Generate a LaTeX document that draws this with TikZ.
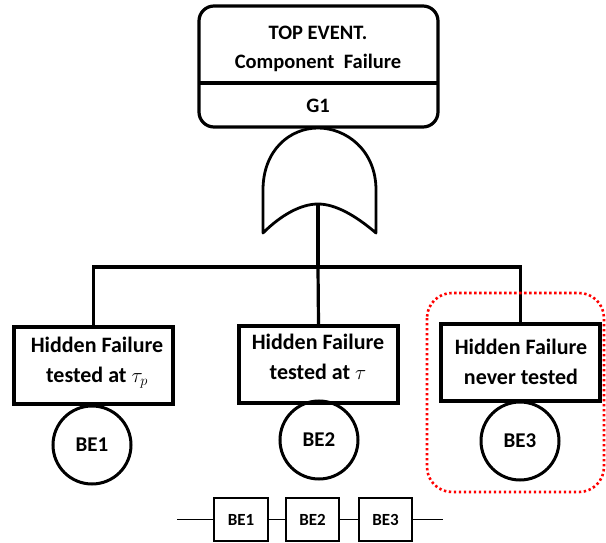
\documentclass[tikz,border=0pt]{standalone}
\usepackage{fontspec}
\setmainfont{Carlito}
\begin{document}
\begin{tikzpicture}[x=1pt,y=-1pt,
  topbox/.style={draw,line width=3.2pt,rounded corners=15pt,minimum width=239pt,minimum height=121pt,inner sep=0},
  toptext/.style={font=\bfseries\fontsize{20.5}{24}\selectfont,inner sep=0},
  hbox/.style={draw,line width=3.2pt,minimum width=159pt,minimum height=77pt,inner sep=0},
  htext/.style={font=\bfseries\fontsize{22}{30}\selectfont,align=center,inner sep=0},
  bec/.style={draw,circle,line width=3pt,minimum size=78pt,inner sep=0,font=\bfseries\fontsize{21}{24}\selectfont},
  sbox/.style={draw,line width=1.6pt,minimum width=53pt,minimum height=43pt,inner sep=0,font=\bfseries\fontsize{17}{20}\selectfont},
  conn/.style={line width=3.2pt},
  sconn/.style={line width=1.6pt},
  gate/.style={line width=2.8pt,line join=round},
  grp/.style={red,line width=2.6pt,dash pattern=on 2.4pt off 2.6pt,rounded corners=25pt}]
\useasboundingbox (0,0) rectangle (606,543);
% top event
\node[topbox] (top) at (318.5,66.5) {};
\draw[line width=3.2pt] (199,83) -- (438,83);
\node[toptext] (t1) at (318,33) {TOP EVENT.};
\node[toptext] (t2) at (318,63) {Component~~Failure};
\node[toptext] (g1) at (318,106) {G1};
% OR gate
\draw[gate] (263,233) -- (263,190) .. controls (263,150) and (290,128) .. (318,128)
  .. controls (346,128) and (376,150) .. (376,190) -- (376,233)
  .. controls (355,215) and (335,204) .. (318,204)
  .. controls (301,204) and (281,215) .. (263,233) -- cycle;
\coordinate (gbot) at (318,204);
\coordinate (bus) at (318,267);
% intermediate boxes
\node[hbox] (h1) at (93.5,365.5) {};
\node[hbox] (h2) at (318.5,364.5) {};
\node[hbox] (h3) at (520.5,362.5) {};
\node[htext] (h1t) at (97,363) {Hidden Failure\\tested at $\tau_p$};
\node[htext] (h2t) at (318,357) {Hidden Failure\\tested at $\tau$};
\node[htext] (h3t) at (521,362) {Hidden Failure\\never tested};
% connectors
\draw[conn] (gbot) -- (bus);
\draw[conn] (h1.north) |- (bus) -| (h3.north);
\draw[conn] (bus) -- (h2.north);
% basic events
\node[bec] (be1) at (92,445) {BE1};
\node[bec] (be2) at (319,440) {BE2};
\node[bec] (be3) at (520,441) {BE3};
% group
\draw[grp] (427,293) rectangle (604,492);
% series
\coordinate (sl) at (177,519.5);
\coordinate (sr) at (443,519.5);
\node[sbox,minimum width=54pt] (s1) at (241,519.5) {BE1};
\node[sbox] (s2) at (312.5,519.5) {BE2};
\node[sbox] (s3) at (385.5,519.5) {BE3};
\draw[sconn] (sl) -- (s1) -- (s2) -- (s3) -- (sr);
\end{tikzpicture}
\end{document}
